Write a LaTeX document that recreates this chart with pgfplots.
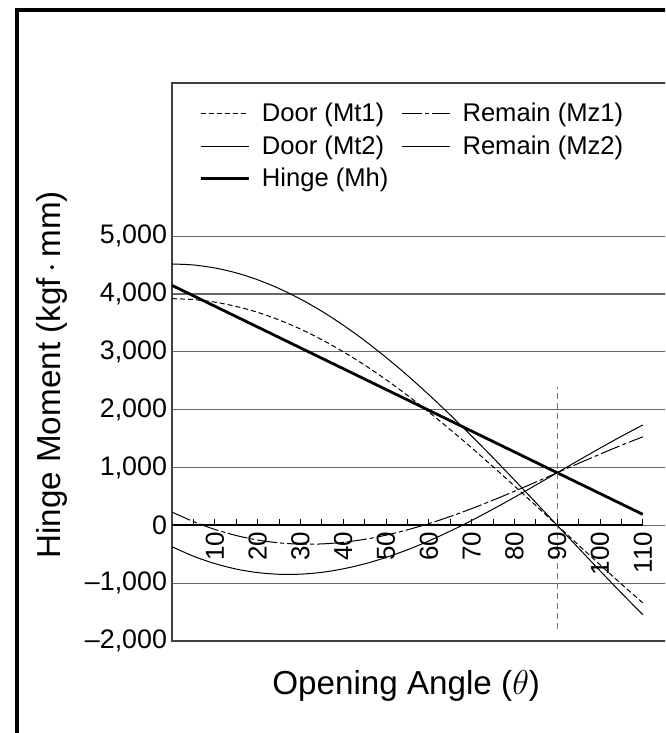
\documentclass[border=0pt]{standalone}
\usepackage{fontspec}
\setmainfont{Liberation Sans}
\usepackage{pgfplots}
\pgfplotsset{compat=1.18}
\usepackage{pgfplotstable}

\pgfplotstableread{
x    mt1    mt2    mz1    mz2    mh
0    3920   4520   230    -370   4150
5    3905   4503   65     -533   3970
10   3860   4451   -70    -661   3790
15   3786   4366   -176   -756   3610
20   3684   4247   -254   -817   3430
25   3553   4096   -303   -846   3250
30   3395   3914   -325   -844   3070
35   3211   3703   -321   -813   2890
40   3003   3462   -293   -752   2710
45   2772   3196   -242   -666   2530
50   2520   2905   -170   -555   2350
55   2248   2593   -78    -423   2170
60   1960   2260   30     -270   1990
65   1657   1910   153    -100   1810
70   1341   1546   289    84     1630
75   1015   1170   435    280    1450
80   681    785    589    485    1270
85   342    394    748    696    1090
90   0      0      910    910    910
95   -342   -394   1072   1124   730
100  -681   -785   1231   1335   550
105  -1015  -1170  1385   1540   370
110  -1341  -1546  1531   1736   190
}\datatable

\begin{document}
\begin{tikzpicture}
\useasboundingbox (0pt,0pt) rectangle (332.5pt,366.5pt);
\clip (0pt,0pt) rectangle (332.5pt,366.5pt);
\draw[line width=1.6pt] (8.5pt,-25pt) rectangle (380pt,361.5pt);
\begin{axis}[
  at={(86pt,46pt)}, anchor=south west,
  scale only axis, width=256.8pt, height=279pt,
  xmin=0, xmax=120, ymin=-2000, ymax=7650,
  xtick=\empty,
  ytick={-2000,-1000,0,1000,2000,3000,4000,5000},
  yticklabels={{\textendash 2,000},{\textendash 1,000},0,{1,000},{2,000},{3,000},{4,000},{5,000}},
  ymajorgrids, major grid style={draw=black!60, line width=0.6pt},
  major tick length=0pt,
  axis line style={draw=black!75, line width=0.75pt},
  yticklabel style={font=\fontsize{13.4}{16}\selectfont, xshift=1pt},
  ylabel={Hinge Moment (kgf\,$\cdot$\,mm)},
  ylabel style={font=\fontsize{16.6}{19}\selectfont, at={(axis description cs:-0.233,0.477)}, anchor=center},
  xlabel={Opening Angle ($\theta$)},
  xlabel style={font=\fontsize{16.6}{19}\selectfont, at={(axis description cs:0.456,-0.0806)}, anchor=center},
  legend columns=2,
  legend cell align=left,
  legend style={draw=none, fill=none, at={(axis description cs:0.052,0.972)}, anchor=north west,
    font=\fontsize{12.8}{15}\selectfont, inner sep=0pt,
    /tikz/every odd column/.append style={column sep=4pt},
    /tikz/every even column/.append style={column sep=4.5pt},
    row sep=1.5pt},
  legend image code/.code={\draw[#1] (0pt,0pt) -- (24pt,0pt);},
]
\addplot[black, line width=0.5pt, dash pattern=on 2.5pt off 1.5pt, smooth] table[x=x,y=mt1] {\datatable};
\addlegendentry{Door (Mt1)}
\addplot[black, line width=0.5pt, dash pattern=on 10pt off 1.5pt on 2pt off 1.5pt, smooth] table[x=x,y=mz1] {\datatable};
\addlegendentry{Remain (Mz1)}
\addplot[black, line width=0.5pt, smooth] table[x=x,y=mt2] {\datatable};
\addlegendentry{Door (Mt2)}
\addplot[black, line width=0.5pt, smooth] table[x=x,y=mz2] {\datatable};
\addlegendentry{Remain (Mz2)}
\addplot[black, line width=1.4pt, smooth] table[x=x,y=mh] {\datatable};
\addlegendentry{Hinge (Mh)}
\addplot[black!55, line width=0.6pt, dash pattern=on 3pt off 2pt, forget plot] coordinates {(90,-1800) (90,2400)};
\end{axis}
\begin{axis}[
  at={(86pt,104pt)}, anchor=south west,
  scale only axis, width=235.4pt, height=221pt,
  xmin=0, xmax=110, ymin=0, ymax=7650,
  axis x line=bottom, axis y line=none,
  x axis line style={-, draw=black, line width=0.6pt},
  xtick={10,20,...,110}, minor xtick={5,15,...,105},
  tick align=inside, major tick length=3pt, minor tick length=3pt,
  tick style={black, line width=0.5pt},
  /pgf/number format/assume math mode=true,
  xticklabel style={font=\fontsize{13}{15}\selectfont, rotate=90, anchor=east},
]
\end{axis}
\end{tikzpicture}
\end{document}
